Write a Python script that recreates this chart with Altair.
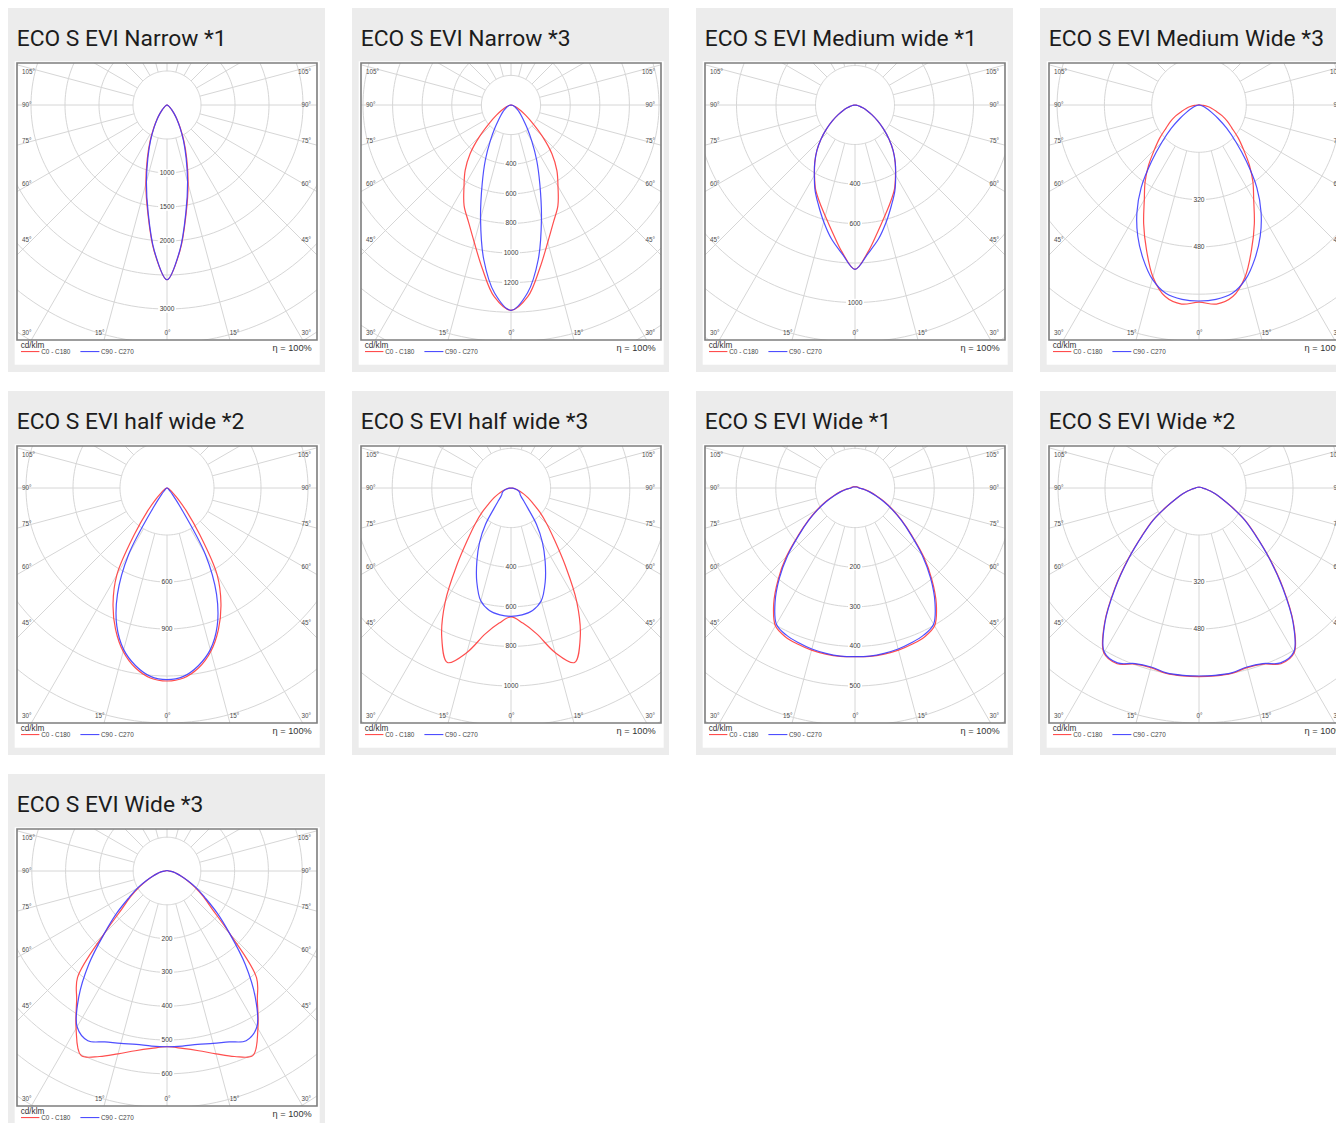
import altair as alt
import numpy as np
import pandas as pd

# ---------------- data ----------------
TITLES = [
    "ECO S EVI Narrow *1", "ECO S EVI Narrow *3", "ECO S EVI Medium wide *1",
    "ECO S EVI Medium Wide *3", "ECO S EVI half wide *2", "ECO S EVI half wide *3",
    "ECO S EVI Wide *1", "ECO S EVI Wide *2", "ECO S EVI Wide *3",
]
SERIES = ["C0 - C180", "C90 - C270"]
ANGLES = list(range(0, 95, 5))      # gamma angle from nadir, degrees
ANGLES_UP = [100, 120, 150, 180]    # upper hemisphere

RING_STEP = [500, 200, 200, 160, 300, 200, 100, 160, 100]  # cd/klm between rings
RING_LABELS = [
    [1000, 1500, 2000, 3000],
    [400, 600, 800, 1000, 1200],
    [400, 600, 1000],
    [320, 480],
    [600, 900],
    [400, 600, 800, 1000],
    [200, 300, 400, 500],
    [320, 480],
    [200, 300, 400, 500, 600],
]

C0_C180 = [
    [2570, 2160, 1620, 1200, 850, 590, 390, 255, 160, 100, 60, 40, 25, 16, 10, 6, 3, 1, 0],
    [1387, 1300, 1120, 960, 840, 750, 635, 540, 430, 300, 190, 120, 75, 48, 30, 18, 10, 4, 0],
    [832, 748, 655, 582, 524, 472, 410, 355, 300, 243, 188, 140, 98, 66, 42, 26, 14, 6, 0],
    [667, 676, 658, 602, 520, 443, 370, 318, 265, 213, 173, 136, 111, 87, 62, 45, 30, 15, 3],
    [1232, 1217, 1165, 1080, 960, 815, 640, 365, 195, 100, 50, 30, 18, 12, 8, 5, 3, 1, 0],
    [651, 685, 748, 860, 938, 828, 665, 478, 341, 255, 190, 135, 100, 70, 48, 30, 18, 8, 0],
    [426, 427, 426, 424, 420, 415, 402, 358, 302, 245, 188, 145, 110, 82, 57, 40, 27, 17, 12],
    [642, 642, 641, 633, 638, 660, 648, 560, 446, 340, 254, 191, 128, 86, 60, 40, 25, 16, 12],
    [520, 527, 540, 560, 584, 602, 538, 466, 412, 264, 174, 130, 95, 65, 45, 30, 20, 12, 5],
]
C90_C270 = [
    [2570, 2150, 1600, 1170, 820, 570, 380, 250, 160, 100, 60, 40, 25, 16, 10, 6, 3, 1, 0],
    [1387, 1275, 1060, 795, 570, 410, 280, 190, 130, 95, 70, 50, 38, 28, 20, 14, 9, 4, 0],
    [832, 755, 688, 612, 540, 478, 412, 355, 300, 243, 188, 140, 98, 66, 42, 26, 14, 6, 0],
    [663, 660, 647, 610, 553, 490, 420, 341, 250, 176, 122, 78, 48, 30, 18, 10, 5, 2, 0],
    [1223, 1207, 1152, 1068, 937, 748, 490, 150, 55, 25, 15, 10, 8, 6, 5, 4, 3, 2, 1],
    [648, 643, 628, 590, 505, 408, 318, 225, 131, 88, 66, 56, 52, 46, 38, 28, 18, 8, 0],
    [426, 426, 424, 421, 416, 410, 397, 352, 297, 240, 185, 143, 108, 78, 55, 38, 25, 15, 10],
    [640, 640, 639, 631, 636, 657, 645, 558, 443, 338, 252, 190, 127, 85, 60, 40, 25, 16, 12],
    [520, 520, 521, 528, 538, 554, 532, 455, 360, 263, 194, 137, 101, 68, 45, 30, 20, 12, 5],
]
C0_C180_UP = [
    [0, 0, 0, 0], [0, 0, 0, 0], [0, 0, 0, 0], [2, 1, 0, 0], [0, 0, 0, 0],
    [0, 0, 0, 0], [9, 6, 4, 3], [9, 5, 3, 2], [4, 2, 1, 1],
]
C90_C270_UP = [
    [0, 0, 0, 0], [0, 0, 0, 0], [0, 0, 0, 0], [0, 0, 0, 0], [1, 0, 0, 0],
    [0, 0, 0, 0], [8, 5, 3, 2], [9, 5, 3, 2], [4, 2, 1, 1],
]

SIDE_LABELS = ["105°", "90°", "75°", "60°", "45°"]
BOTTOM_MID_LABELS = ["15°", "0°", "15°"]
CORNER_LABEL = "30°"
UNIT_TEXT = "cd/klm"
ETA_TEXT = "η = 100%"

# ---------------- styling / geometry ----------------
RING_PX = [34.0, 29.6, 39.5, 47.3, 47.0, 39.6, 39.6, 47.0, 33.8]  # pixel spacing of rings
W, H = 300, 277          # diagram box
CX, CY = 150, 42         # luminaire centre inside the box
RED, BLUE = "#ff3b3b", "#3c3cff"
GRID = "#d6d6d6"
CARD = "#ececec"
LABEL_FONT = "Liberation Sans"
SIDE_Y = [9, 42, 78.3, 120.7, 177.3]
BOTTOM_Y = 270
BOTTOM_MID_X = [82.7, 150.4, 217.4]


def one():
    return pd.DataFrame({"k": [0]})


def panel(i):
    step = RING_STEP[i]
    s = RING_PX[i] / step
    xsc = alt.Scale(domain=[-CX / s, (W - CX) / s], nice=False, zero=False)
    ysc = alt.Scale(domain=[-(H - CY) / s, CY / s], nice=False, zero=False)

    def X(f):
        return alt.X(f, type="quantitative", scale=xsc, axis=None)

    def Y(f):
        return alt.Y(f, type="quantitative", scale=ysc, axis=None)

    def px2x(p):
        return (p - CX) / s

    def py2y(p):
        return (CY - p) / s

    # grid rings
    K = int(np.ceil(300 / RING_PX[i])) + 1
    t = np.radians(np.arange(0, 362, 2))
    rings = pd.concat([
        pd.DataFrame({"ring": k, "t": np.arange(len(t)),
                      "x": k * step * np.sin(t), "y": k * step * np.cos(t)})
        for k in range(1, K + 1)
    ])
    ring_layer = alt.Chart(rings).mark_line(clip=True, color=GRID, strokeWidth=1).encode(
        x=X("x"), y=Y("y"), detail="ring:N", order="t:Q")

    # radial lines every 15 degrees, starting at the first ring
    a = np.radians(np.arange(0, 360, 15))
    r0, r1 = step, step * (K + 3)
    rad = pd.DataFrame({"x": r0 * np.sin(a), "y": -r0 * np.cos(a),
                        "x2": r1 * np.sin(a), "y2": -r1 * np.cos(a)})
    rad_layer = alt.Chart(rad).mark_rule(clip=True, color=GRID, strokeWidth=1).encode(
        x=X("x"), y=Y("y"), x2="x2:Q", y2="y2:Q")

    # intensity labels on the nadir line
    lab = pd.DataFrame({"v": RING_LABELS[i]})
    lab["x"] = 0.0
    lab["y"] = -lab["v"]
    lab["txt"] = lab["v"].astype(str)
    lab["sz"] = (lab["txt"].str.len() * 3.7 + 3) ** 2
    lab_bg = alt.Chart(lab).mark_point(
        shape="M-1,-0.42L1,-0.42L1,0.42L-1,0.42Z", filled=True, color="white",
        opacity=1, strokeWidth=0).encode(
        x=X("x"), y=Y("y"), size=alt.Size("sz:Q", scale=None, legend=None))
    lab_txt = alt.Chart(lab).mark_text(
        font=LABEL_FONT, fontSize=6.6, color="#3a3a3a", baseline="middle").encode(
        x=X("x"), y=Y("y"), text="txt:N")

    # curves (symmetric halves, closed through the zenith)
    rows = []
    for name, vals, up in zip(SERIES, [C0_C180[i], C90_C270[i]], [C0_C180_UP[i], C90_C270_UP[i]]):
        for ang, v in list(zip(ANGLES, vals)) + list(zip(ANGLES_UP, up)):
            rows.append({"series": name, "a": ang, "I": v})
            if ang:
                rows.append({"series": name, "a": -ang, "I": v})
    cur = pd.DataFrame(rows)
    curve_layer = alt.Chart(cur).transform_calculate(
        x="datum.I * sin(datum.a * PI / 180)",
        y="-datum.I * cos(datum.a * PI / 180)",
    ).mark_line(clip=True, interpolate="catmull-rom", strokeWidth=1.2, opacity=0.9).encode(
        x=X("x"), y=Y("y"),
        color=alt.Color("series:N", scale=alt.Scale(domain=SERIES, range=[RED, BLUE]), legend=None),
        order="a:Q")

    # degree labels
    left = pd.DataFrame({"txt": SIDE_LABELS + [CORNER_LABEL],
                         "x": px2x(5), "y": [py2y(v) for v in SIDE_Y + [BOTTOM_Y]]})
    right = pd.DataFrame({"txt": SIDE_LABELS + [CORNER_LABEL],
                          "x": px2x(294), "y": [py2y(v) for v in SIDE_Y + [BOTTOM_Y]]})
    mid = pd.DataFrame({"txt": BOTTOM_MID_LABELS, "x": [px2x(v) for v in BOTTOM_MID_X],
                        "y": py2y(BOTTOM_Y)})
    dl = dict(font=LABEL_FONT, fontSize=6.3, color="#4d4d4d", baseline="middle")
    deg_l = alt.Chart(left).mark_text(align="left", **dl).encode(x=X("x"), y=Y("y"), text="txt:N")
    deg_r = alt.Chart(right).mark_text(align="right", **dl).encode(x=X("x"), y=Y("y"), text="txt:N")
    deg_m = alt.Chart(mid).mark_text(align="center", **dl).encode(x=X("x"), y=Y("y"), text="txt:N")

    # card, white sheet, frame
    card = alt.Chart(one()).mark_rect(color=CARD).encode(
        x=alt.value(-9), x2=alt.value(308), y=alt.value(-55), y2=alt.value(309))
    sheet = alt.Chart(one()).mark_rect(color="white").encode(
        x=alt.value(-2.3), x2=alt.value(302.7), y=alt.value(-1.7), y2=alt.value(301.7))
    frame = alt.Chart(one()).mark_rect(fillOpacity=0, stroke="#7d7d7d", strokeWidth=1.6).encode(
        x=alt.value(0), x2=alt.value(W), y=alt.value(0), y2=alt.value(H))

    title = alt.Chart(one()).mark_text(
        text=TITLES[i], font="Roboto", fontSize=22.8, color="#1c1c1c", align="left",
        baseline="alphabetic").encode(x=alt.value(-0.3), y=alt.value(-17))

    unit = alt.Chart(one()).mark_text(
        text=UNIT_TEXT, font=LABEL_FONT, fontSize=8.2, color="#333333", align="left",
        baseline="alphabetic").encode(x=alt.value(3.7), y=alt.value(285.3))
    eta = alt.Chart(one()).mark_text(
        text=ETA_TEXT, font=LABEL_FONT, fontSize=9.2, color="#333333", align="right",
        baseline="middle").encode(x=alt.value(294.7), y=alt.value(284.5))
    leg_r = alt.Chart(one()).mark_rule(color=RED, strokeWidth=1).encode(
        x=alt.value(4), x2=alt.value(22.4), y=alt.value(288.6))
    leg_b = alt.Chart(one()).mark_rule(color=BLUE, strokeWidth=1).encode(
        x=alt.value(63.4), x2=alt.value(82.4), y=alt.value(288.6))
    leg_rt = alt.Chart(one()).mark_text(
        text=SERIES[0], font=LABEL_FONT, fontSize=6.4, color="#444444", align="left",
        baseline="middle").encode(x=alt.value(24.2), y=alt.value(289.2))
    leg_bt = alt.Chart(one()).mark_text(
        text=SERIES[1], font=LABEL_FONT, fontSize=6.4, color="#444444", align="left",
        baseline="middle").encode(x=alt.value(84.0), y=alt.value(289.2))

    return alt.layer(
        card, sheet, ring_layer, rad_layer, lab_bg, lab_txt, curve_layer, frame,
        deg_l, deg_r, deg_m, title, unit, eta, leg_r, leg_b, leg_rt, leg_bt,
    ).properties(width=W, height=H)


# the page crops the right-most column and the last row, as in the reference
chart = alt.concat(*[panel(i) for i in range(len(TITLES))], columns=4,
                   spacing={"row": 19, "column": 27}).properties(
    padding={"left": 0, "top": 0, "right": -21, "bottom": -15}).configure_view(strokeWidth=0)

chart.save("out.html", embed_options={"renderer": "svg", "actions": False})
